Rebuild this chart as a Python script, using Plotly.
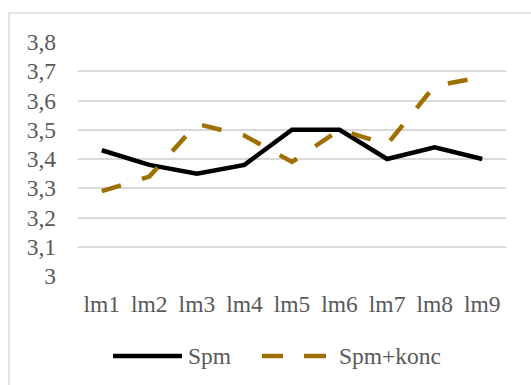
import plotly.graph_objects as go

# Categories and series
categories = ["lm1", "lm2", "lm3", "lm4", "lm5", "lm6", "lm7", "lm8", "lm9"]
spm = [3.43, 3.38, 3.35, 3.38, 3.50, 3.50, 3.40, 3.44, 3.40]
spm_konc = [3.29, 3.34, 3.52, 3.48, 3.39, 3.50, 3.45, 3.65, 3.68]

# Y-axis ticks (comma decimal labels)
y_tickvals = [3.0, 3.1, 3.2, 3.3, 3.4, 3.5, 3.6, 3.7, 3.8]
y_ticktext = ["3", "3,1", "3,2", "3,3", "3,4", "3,5", "3,6", "3,7", "3,8"]

series_names = ["Spm", "Spm+konc"]
BLACK = "#000000"
GOLD = "#9E7000"
TEXT = "#595959"
GRID = "#d9d9d9"
FONT = "Liberation Serif"
FS = 23.5

W, H = 531, 385
ML, MR, MT, MB = 78, 25, 42, 109
PW, PH = W - ML - MR, H - MT - MB


def px_x(px):
    return (px - ML) / PW


def px_y(py):
    return (H - MB - py) / PH


fig = go.Figure()
fig.add_trace(go.Scatter(
    x=categories, y=spm, mode="lines", name=series_names[0],
    line=dict(color=BLACK, width=4.5), showlegend=False,
))
fig.add_trace(go.Scatter(
    x=categories, y=spm_konc, mode="lines", name=series_names[1],
    line=dict(color=GOLD, width=4.5, dash="20px,22px"), showlegend=False,
))

LEG_Y = 356
shapes = [
    # outer chart frame
    dict(type="rect", xref="paper", yref="paper",
         x0=px_x(9), x1=px_x(W + 20), y0=px_y(H + 20), y1=px_y(13),
         line=dict(color=GRID, width=1.5), fillcolor="rgba(0,0,0,0)", layer="below"),
    # legend samples
    dict(type="line", xref="paper", yref="paper",
         x0=px_x(113), x1=px_x(182), y0=px_y(LEG_Y), y1=px_y(LEG_Y),
         line=dict(color=BLACK, width=4.5)),
    dict(type="line", xref="paper", yref="paper",
         x0=px_x(262), x1=px_x(283), y0=px_y(LEG_Y), y1=px_y(LEG_Y),
         line=dict(color=GOLD, width=4.5)),
    dict(type="line", xref="paper", yref="paper",
         x0=px_x(304), x1=px_x(326), y0=px_y(LEG_Y), y1=px_y(LEG_Y),
         line=dict(color=GOLD, width=4.5)),
]

annotations = [
    dict(text=series_names[0], xref="paper", yref="paper", x=px_x(186), y=px_y(LEG_Y),
         xanchor="left", yanchor="middle", showarrow=False,
         font=dict(family=FONT, size=FS, color=TEXT)),
    dict(text=series_names[1], xref="paper", yref="paper", x=px_x(337), y=px_y(LEG_Y),
         xanchor="left", yanchor="middle", showarrow=False,
         font=dict(family=FONT, size=FS, color=TEXT)),
]

fig.update_layout(
    width=W, height=H,
    margin=dict(l=ML, r=MR, t=MT, b=MB),
    paper_bgcolor="white", plot_bgcolor="white",
    font=dict(family=FONT, size=FS, color=TEXT),
    shapes=shapes, annotations=annotations,
    showlegend=False,
    xaxis=dict(
        type="category", range=[-0.5, 8.5],
        showgrid=False, zeroline=False, showline=False, ticks="",
        ticklabelstandoff=11,
        tickfont=dict(family=FONT, size=FS, color=TEXT),
    ),
    yaxis=dict(
        range=[3.0, 3.8], tickvals=y_tickvals, ticktext=y_ticktext,
        showgrid=True, gridcolor=GRID, gridwidth=1.5,
        zeroline=False, showline=False, ticks="",
        ticklabelstandoff=21,
        tickfont=dict(family=FONT, size=FS, color=TEXT),
    ),
)

fig.write_html("out.html")
